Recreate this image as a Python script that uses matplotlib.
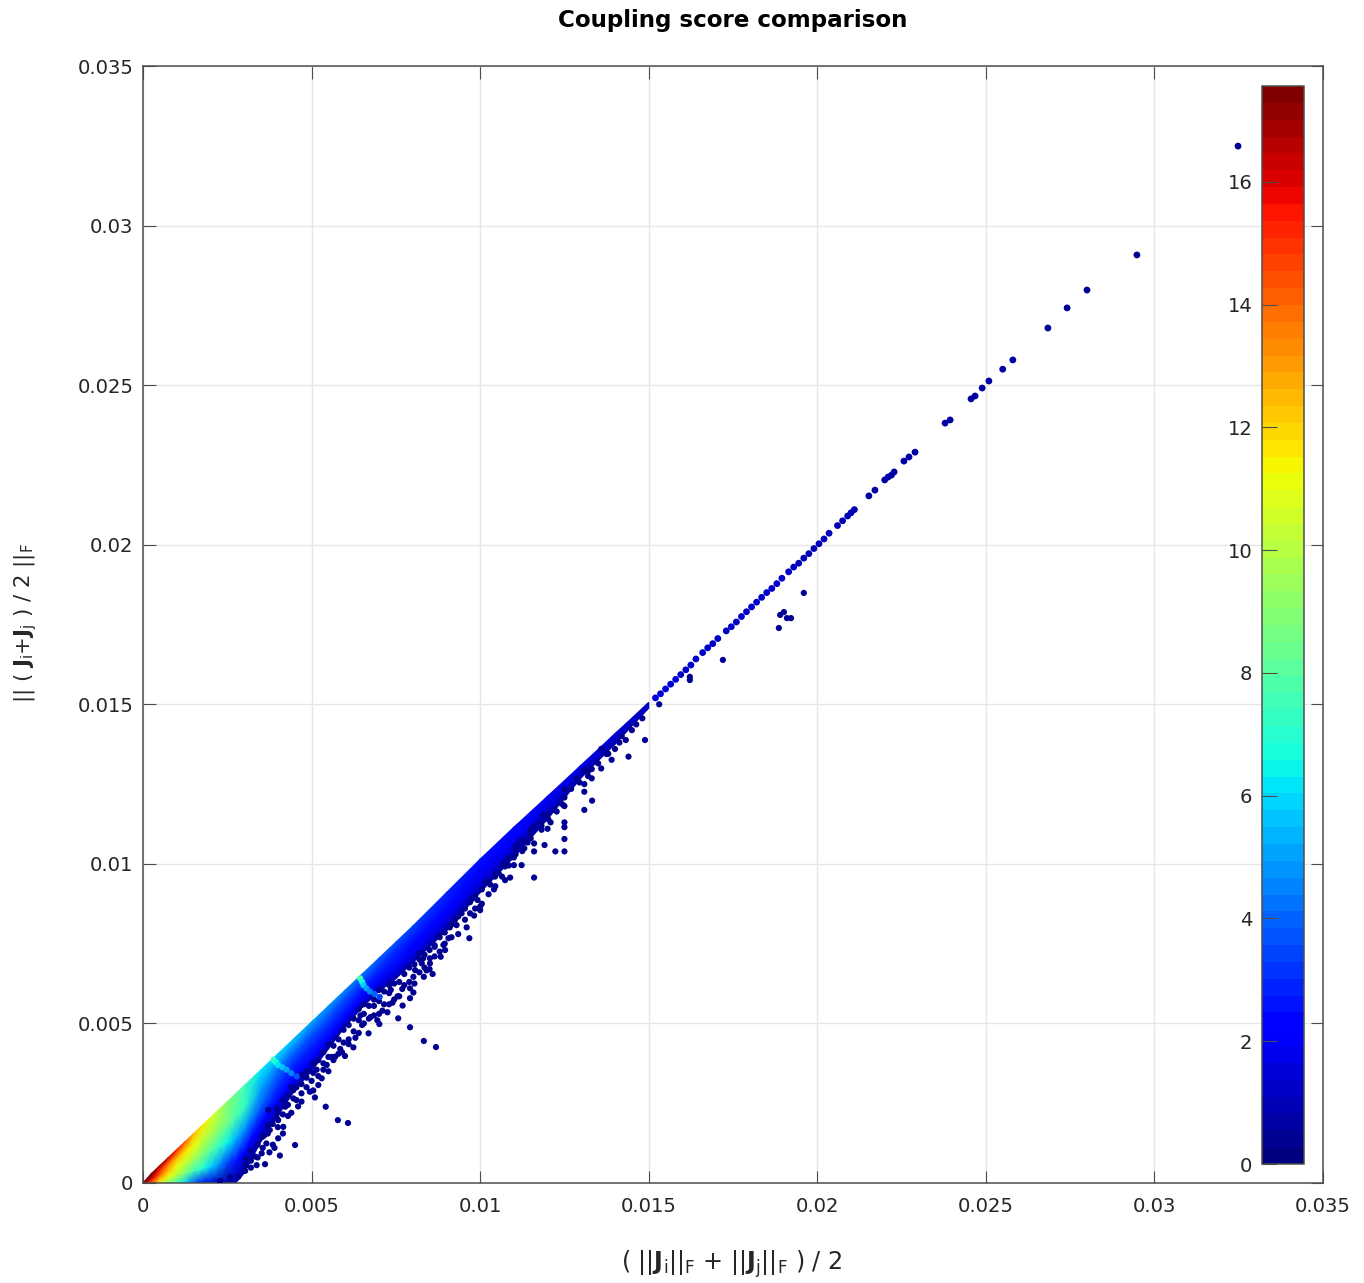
import numpy as np
import matplotlib
matplotlib.use('Agg')
import matplotlib.pyplot as plt

UNIT = 1e-3   # all lists below are in units of 0.001

# Dense wedge near the origin, read per column
band_x = [0, .25, .5, .75, 1, 1.25, 1.5, 1.75, 2, 2.25, 2.5, 2.75, 3, 3.5, 4, 4.5, 5, 5.5, 6, 6.5,
          7, 7.5, 8, 9, 10, 11, 12, 13, 14, 15]
band_low = [0, 0, 0, 0, 0, 0, 0, 0, 0, 0, 0, 0, .3, 1.3, 2.1, 2.9, 3.5, 4.2, 4.9, 5.5,
            6.0, 6.4, 6.9, 7.9, 9.1, 10.2, 11.4, 12.7, 13.75, 14.88]
band_top = [0, .3, .55, .8, 1.05, 1.3, 1.55, 1.8, 2.05, 2.3, 2.55, 2.8, 3.05, 3.55, 4.05, 4.55, 5.05, 5.55, 6.05, 6.55,
            7.05, 7.55, 8.05, 9.1, 10.15, 11.15, 12.12, 13.1, 14.08, 15.06]
score_f00 = [17.5, 14.5, 11, 9, 7.5, 6, 4, 2.5, 1.5, 1, .7, .6, .6, .6, .6, .6, .6, .6, .6, .6,
             .6, .6, .6, .6, .6, .6, .7, .7, .7, .7]
score_f25 = [17.5, 15, 12.5, 11, 10, 8.8, 7.6, 7, 6, 4.8, 3.4, 2.7, 2.3, 2.2, 2.2, 2.1, 2.1, 2.1, 2.1, 2,
             1.9, 1.8, 1.7, 1.5, 1.4, 1.3, 1.1, 1, 1, .9]
score_f50 = [17.5, 16.2, 14, 12.6, 11.2, 10.4, 9.8, 9, 8.2, 7.4, 6.5, 5.4, 4.7, 4.1, 3.2, 3, 3, 2.9, 2.8, 2.7,
             2.6, 2.5, 2.3, 2.1, 1.9, 1.7, 1.5, 1.3, 1.2, 1.1]
score_f75 = [17.5, 16.8, 15.2, 13.5, 12.6, 11.6, 11, 10.3, 9.7, 9.2, 8.7, 7.9, 7.3, 5.2, 4.3, 4, 3.8, 3.6, 3.5, 3.4,
             3.1, 2.9, 2.8, 2.5, 2.2, 2, 1.7, 1.5, 1.3, 1.2]
score_f100 = [17.5, 17.5, 17, 16.2, 15.4, 14, 12.6, 11.7, 10.9, 10, 9, 8.3, 7.6, 6.3, 6, 5.5, 5, 4.7, 4.5, 4.3,
              3.9, 3.6, 3.3, 2.9, 2.5, 2.2, 1.9, 1.7, 1.5, 1.3]
band_fractions = [0, .25, .5, .75, 1]

# Lighter streaks across the wedge
streak_x = [6.44, 6.5, 6.54, 6.63, 6.73, 6.87, 7.02, 3.87, 3.94, 4.01, 4.13, 4.26, 4.4, 4.56]
streak_y = [6.41, 6.3, 6.2, 6.1, 6.0, 5.92, 5.83, 3.86, 3.78, 3.7, 3.63, 3.55, 3.44, 3.34]
streak_s = [7.8, 6.6, 5.8, 5.2, 4.6, 3.9, 3.3, 7.4, 6.8, 6.2, 5.6, 5, 4.4, 3.8]

# Points following the diagonal above the wedge
line_x = [15.2, 15.35, 15.5, 15.65, 15.8, 15.95, 16.1, 16.25, 16.4, 16.6, 16.75, 16.9, 17.05, 17.3, 17.45,
          17.6, 17.75, 17.9, 18.05, 18.2, 18.35, 18.5, 18.65, 18.8, 18.95, 19.15, 19.3, 19.45, 19.6, 19.75,
          19.9, 20.05, 20.2, 20.35, 20.6, 20.75, 20.9, 21.0, 21.1, 21.53, 21.71, 22.0, 22.1, 22.2, 22.28,
          22.57, 22.72, 22.9, 23.79, 23.94, 24.56, 24.68, 24.89, 25.09, 25.5, 25.8, 26.84, 27.41, 28.0,
          29.48, 32.48]
line_y = [15.2, 15.33, 15.48, 15.63, 15.78, 15.93, 16.08, 16.23, 16.42, 16.62, 16.77, 16.9, 17.06, 17.3, 17.43,
          17.58, 17.75, 17.9, 18.05, 18.2, 18.35, 18.5, 18.63, 18.78, 18.95, 19.15, 19.3, 19.42, 19.58, 19.72,
          19.88, 20.03, 20.18, 20.36, 20.6, 20.75, 20.9, 21.0, 21.1, 21.53, 21.71, 22.03, 22.12, 22.18, 22.28,
          22.62, 22.75, 22.9, 23.81, 23.91, 24.57, 24.66, 24.91, 25.13, 25.5, 25.79, 26.79, 27.42, 27.98,
          29.08, 32.49]
line_s = [1.4, 1.4, 1.4, 1.4, 1.4, 1.3, 1.3, 1.3, 1.3, 1.3, 1.3, 1.3, 1.2, 1.2, 1.2,
          1.2, 1.2, 1.2, 1.2, 1.1, 1.1, 1.1, 1.1, 1.1, 1.1, 1.1, 1.1, 1, 1, 1,
          1, 1, 1, 1, .9, .9, .9, .9, .9, .8, .8, .8, .8, .8, .8,
          .7, .7, .7, .7, .7, .7, .7, .6, .6, .6, .6, .5, .5, .5,
          .4, .4]

# Dark points below the diagonal
off_x = [17.2, 16.22, 16.22, 18.86, 18.9, 19.01, 19.1, 19.22, 19.6,
         15.31, 14.81, 14.63, 14.89, 14.32, 14.13, 14.5, 14.4, 13.9, 14.0, 13.75, 13.59, 13.59, 13.31, 13.09,
         13.31, 12.86, 13.09, 13.09, 13.32, 13.09, 12.5, 12.5, 12.5, 12.5, 12.5, 12.5, 12.5, 12.23, 11.91,
         11.6, 11.6, 11.41, 11.31, 11.6, 11.23, 11.0, 11.0, 10.89, 10.74, 10.41, 12.09, 11.82, 11.82, 11.87,
         12.02, 12.27, 12.47, 11.58, 11.48, 11.23, 11.09, 10.74, 10.74, 10.44, 10.15,
         9.92, 10.0, 10.0, 9.82, 9.6, 9.3, 9.1, 9.68, 9.06, 8.91, 8.96, 8.83, 8.51, 8.31, 8.51, 8.27,
         8.07, 8.41, 8.59, 8.33, 8.02, 7.69, 7.92, 8.02, 7.92, 7.7, 7.57, 7.92, 8.33, 8.69, 7.01, 6.69,
         6.24, 5.99, 5.7, 7.4, 7.25, 7.1, 7.55, 7.35, 6.95, 6.75, 6.5, 6.85, 6.3, 6.1, 5.85, 6.45,
         5.42, 5.78, 6.08, 4.51, 4.06, 3.62, 3.37, 3.2, 2.83, 2.58, 2.28, 3.03, 3.75, 3.52, 3.32, 4.01,
         4.16, 4.01, 3.66, 3.6, 3.76, 3.97, 4.22, 4.46, 5.1, 4.95, 5.2, 5.3, 4.7, 4.46, 5.0, 5.15, 5.45,
         3.72, 3.97, 3.9, 4.3, 4.6, 4.85, 5.35, 5.6, 5.9, 8.75, 9.25, 9.45, 9.75, 8.65, 8.2, 10.3, 10.55]
off_y = [16.39, 15.86, 15.76, 17.39, 17.8, 17.89, 17.7, 17.7, 18.49,
         15.0, 14.56, 14.37, 13.88, 13.88, 13.8, 14.19, 13.36, 13.26, 13.6, 13.44, 12.99, 13.6, 12.97, 12.94,
         12.68, 12.68, 12.5, 12.26, 11.98, 11.69, 12.34, 12.08, 11.81, 11.3, 11.15, 10.78, 10.39, 10.39, 10.59,
         10.39, 10.64, 10.67, 10.49, 9.57, 9.96, 9.96, 10.2, 9.57, 9.49, 9.2, 11.3, 11.07, 11.19, 11.53,
         11.4, 11.64, 11.84, 11.17, 10.9, 10.75, 10.6, 10.07, 9.92, 9.6, 9.44,
         8.87, 8.66, 8.55, 8.38, 8.01, 8.08, 8.01, 7.67, 7.67, 7.46, 7.3, 7.09, 7.04, 7.04, 6.88, 6.88,
         6.67, 6.66, 6.55, 6.46, 6.46, 6.08, 6.1, 5.97, 5.79, 5.56, 5.16, 4.88, 4.45, 4.26, 4.98, 4.69,
         4.25, 3.98, 3.96, 5.65, 5.35, 5.4, 5.85, 6.05, 5.1, 5.2, 4.95, 5.55, 4.55, 4.35, 4.2, 5.25,
         2.39, 1.97, 1.88, 1.19, .86, .59, .56, .48, .2, .19, .06, .38, .96, .93, .83, 1.4,
         1.76, 1.97, 1.24, 1.5, 1.66, 2.34, 2.39, 2.65, 2.68, 2.86, 3.07, 3.28, 2.81, 2.91, 3.2, 3.55, 3.7,
         2.29, 2.03, 1.1, 2.1, 2.4, 3.3, 3.75, 3.95, 4.1, 7.75, 8.25, 8.45, 8.9, 7.4, 7.2, 9.35, 9.7]

# Thick part of the dark cloud just under the wedge
cloud_x = [3.05, 3.05, 3.2, 3.2, 3.4, 3.4, 3.55, 3.55, 3.7, 3.7, 3.85, 3.85, 4.0, 4.0, 4.15, 4.15, 4.15, 4.3, 4.3,
           4.4, 4.4, 4.55, 4.55, 4.7, 4.7, 4.7, 4.85, 4.85, 5.05, 5.05, 5.05, 5.2, 5.2, 5.35, 5.35, 5.5, 5.5, 5.5,
           5.65, 5.65, 5.8, 5.8, 5.95, 5.95, 6.1, 6.1, 6.25, 6.25, 6.4, 6.4, 6.4, 6.55, 6.55, 6.55, 6.7, 6.7,
           6.85, 6.85, 7.0, 7.0, 7.0, 7.15, 7.15, 7.3, 7.3, 7.3, 7.45, 7.45, 7.6, 7.6, 7.75, 7.75, 7.9, 7.9,
           8.05, 8.05, 8.2, 8.2, 8.35, 8.35, 8.5, 8.5, 8.65, 8.65, 8.8, 8.8, 8.95, 8.95, 9.15, 9.15, 9.35, 9.35,
           9.55, 9.55, 9.7, 9.7, 9.85, 9.85, 10.05, 10.05, 10.25, 10.25, 10.45, 10.45, 10.65, 10.65, 10.85, 10.85,
           11.05, 11.05, 11.25, 11.25, 11.5, 11.5, 11.75, 12.0, 12.0, 12.2, 12.4, 12.7, 12.95, 13.2, 13.2, 13.5,
           13.8, 14.2]
cloud_y = [.75, .55, 1.0, .7, 1.2, .8, 1.45, 1.1, 1.8, 1.55, 1.2, 1.85, 1.75, 2.2, 1.55, 2.15, 2.6, 2.45, 2.75,
           2.2, 3.0, 2.6, 3.0, 2.55, 3.1, 3.4, 3.0, 3.5, 2.9, 3.45, 3.75, 3.35, 3.85, 3.55, 4.1, 3.5, 3.95, 4.35,
           3.85, 4.3, 4.05, 4.5, 4.4, 4.8, 4.5, 4.95, 4.75, 5.15, 4.7, 5.1, 5.45, 5.0, 5.3, 5.6, 5.15, 5.55,
           5.25, 5.75, 5.3, 5.7, 6.05, 5.6, 6.0, 5.6, 5.95, 6.2, 5.75, 6.25, 5.85, 6.3, 6.2, 6.55, 6.3, 6.75,
           6.25, 6.85, 6.6, 7.0, 6.75, 7.15, 6.7, 7.3, 7.1, 7.45, 7.25, 7.7, 7.5, 7.85, 7.7, 8.1, 7.8, 8.35,
           8.25, 8.6, 8.45, 8.8, 8.6, 9.0, 8.75, 9.2, 9.05, 9.45, 9.3, 9.7, 9.6, 9.95, 9.95, 10.2,
           10.3, 10.5, 10.4, 10.75, 10.8, 11.05, 11.3, 11.1, 11.55, 11.7, 11.9, 12.35, 12.55, 12.75, 12.9, 13.15,
           13.45, 14.0]

axis_ticks = [0, 0.005, 0.01, 0.015, 0.02, 0.025, 0.03, 0.035]
axis_labels = ['0', '0.005', '0.01', '0.015', '0.02', '0.025', '0.03', '0.035']
cbar_ticks = [0, 2, 4, 6, 8, 10, 12, 14, 16]
score_max = 17.56

TEXT = '#262626'
EDGE = '#4d4d4d'


def plot_coupling_scores():
    """Draw the scatter and its colorbar """
    plt.rcParams['font.family'] = 'DejaVu Sans'
    plt.rcParams['mathtext.default'] = 'regular'
    W, H = 1364, 1283
    fig = plt.figure(figsize=(W / 100, H / 100), dpi=100)
    ax = fig.add_axes([143 / W, 1 - 1183 / H, 1180 / W, 1117 / H])
    cmap = matplotlib.colormaps['jet'].resampled(64)
    norm = plt.Normalize(0, score_max)

    x = np.array(band_x) * UNIT
    low = np.array(band_low) * UNIT
    top = np.array(band_top) * UNIT
    mesh_x = np.tile(x, (len(band_fractions), 1))
    mesh_y = np.array([low + f * (top - low) for f in band_fractions])
    mesh_c = np.array([score_f00, score_f25, score_f50, score_f75, score_f100])
    mesh = ax.pcolormesh(mesh_x, mesh_y, mesh_c, shading='gouraud', cmap=cmap, norm=norm, zorder=2)

    dot = 20
    ax.scatter(np.array(cloud_x) * UNIT, np.array(cloud_y) * UNIT, c=[0.3] * len(cloud_x), s=dot, cmap=cmap,
               norm=norm, linewidths=0, zorder=3)
    ax.scatter(np.array(streak_x) * UNIT, np.array(streak_y) * UNIT, c=streak_s, s=dot, cmap=cmap, norm=norm,
               linewidths=0, zorder=3)
    ax.scatter(np.array(line_x) * UNIT, np.array(line_y) * UNIT, c=line_s, s=24, cmap=cmap, norm=norm,
               linewidths=0, zorder=3)
    ax.scatter(np.array(off_x) * UNIT, np.array(off_y) * UNIT, c=[0.3] * len(off_x), s=dot, cmap=cmap, norm=norm,
               linewidths=0, zorder=4)

    ax.set_xlim(0, 0.035)
    ax.set_ylim(0, 0.035)
    ax.set_xticks(axis_ticks, axis_labels)
    ax.set_yticks(axis_ticks, axis_labels)
    ax.grid(True, color='#e6e6e6', linewidth=1)
    ax.set_axisbelow(True)
    ax.tick_params(direction='in', length=9, width=0.8, top=True, right=True, labelsize=14.1,
                   colors=TEXT, color=EDGE)
    ax.tick_params(axis='x', pad=10)
    ax.tick_params(axis='y', pad=7)
    for spine in ax.spines.values():
        spine.set_color(EDGE)
        spine.set_linewidth(1.1)

    ax.set_title('Coupling score comparison', fontsize=16.6, fontweight='bold', color='black', pad=28)
    fig.text(732 / W, 1 - 1264 / H, r'( $||\mathbf{J}_i||_F$ + $||\mathbf{J}_j||_F$ ) / 2',
             fontsize=17.2, color=TEXT, ha='center', va='center')
    fig.text(26 / W, 1 - 623 / H, r'$||$ ( $\mathbf{J}_i$+$\mathbf{J}_j$ ) / 2 $||_F$',
             fontsize=15.3, color=TEXT, ha='center', va='center', rotation=90)

    cax = fig.add_axes([1262 / W, 1 - 1164 / H, 42 / W, 1078 / H])
    cbar = fig.colorbar(mesh, cax=cax)
    cbar.set_ticks(cbar_ticks, labels=[str(t) for t in cbar_ticks])
    cax.yaxis.set_ticks_position('left')
    cax.tick_params(direction='in', length=11, width=0.8, labelsize=14.1, colors=TEXT, color=EDGE, pad=7)
    cbar.outline.set_edgecolor(EDGE)
    cbar.outline.set_linewidth(1.1)

    fig.savefig('out.png', dpi=100, facecolor='white')


plot_coupling_scores()
